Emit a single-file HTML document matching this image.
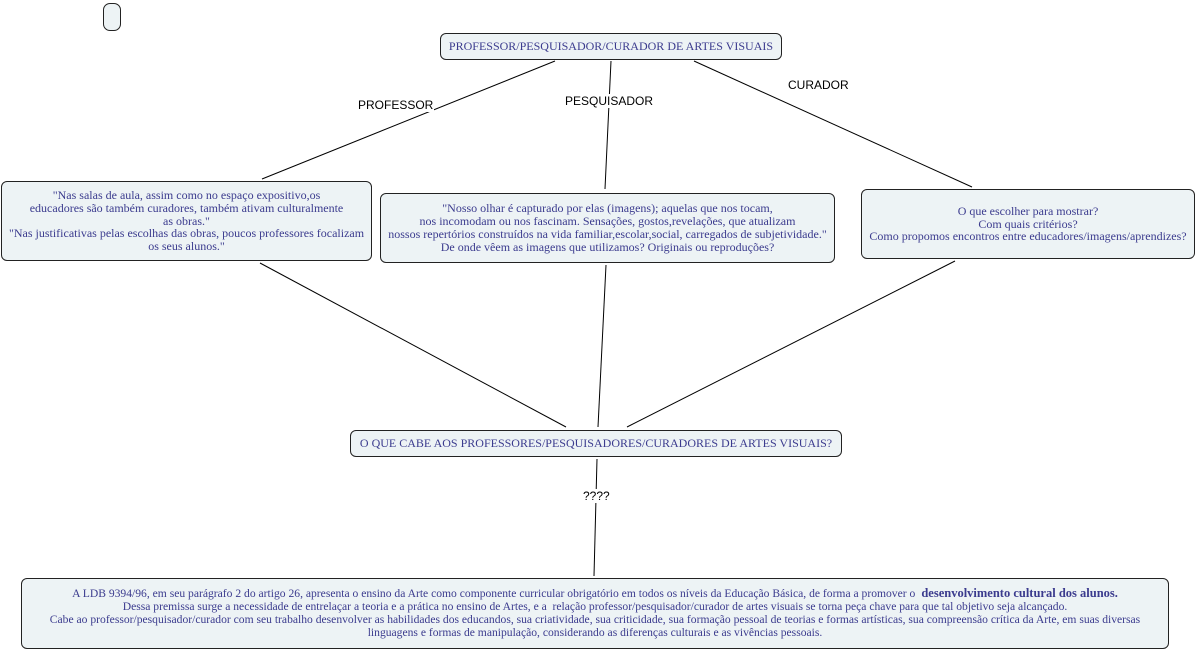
<!DOCTYPE html>
<html><head><meta charset="utf-8"><style>
body{margin:0;width:1197px;height:652px;background:#fff;position:relative;overflow:hidden;font-family:"Liberation Serif",serif}
.b{position:absolute;box-sizing:border-box;border:1px solid #222;border-radius:6px;background:#edf3f5;color:#3b3b8e;font-size:12px;line-height:12.8px;text-align:center;display:flex;align-items:center;justify-content:center;white-space:nowrap;overflow:visible}
.b>div{text-align:center}
.l{position:absolute;font-family:"Liberation Sans",sans-serif;font-size:12px;color:#000;background:#fff;padding:0 1px;line-height:14px}
svg{position:absolute;left:0;top:0}
</style></head><body>
<svg width="1197" height="652"><g stroke="#000" stroke-width="1">
<line x1="555" y1="61" x2="262" y2="179"/>
<line x1="611" y1="61" x2="605" y2="189"/>
<line x1="694" y1="61" x2="972" y2="187"/>
<line x1="260" y1="263" x2="566" y2="427"/>
<line x1="606" y1="265" x2="598" y2="427"/>
<line x1="955" y1="261" x2="627" y2="427"/>
<line x1="597" y1="459" x2="594" y2="576"/>
</g></svg>
<div class="b" style="left:103px;top:3px;width:18px;height:28px;border-radius:7px"></div>
<div class="b" style="left:440px;top:33px;width:342px;height:27px"><div>PROFESSOR/PESQUISADOR/CURADOR DE ARTES VISUAIS</div></div>
<div class="b" style="left:1px;top:181px;width:371px;height:80px"><div>"Nas salas de aula, assim como no espaço expositivo,os<br>educadores são também curadores, também ativam culturalmente<br>as obras."<br>"Nas justificativas pelas escolhas das obras, poucos professores focalizam<br>os seus alunos."</div></div>
<div class="b" style="left:380px;top:193px;width:455px;height:70px"><div>"Nosso olhar é capturado por elas (imagens); aquelas que nos tocam,<br>nos incomodam ou nos fascinam. Sensações, gostos,revelações, que atualizam<br>nossos repertórios construídos na vida familiar,escolar,social, carregados de subjetividade."<br>De onde vêem as imagens que utilizamos? Originais ou reproduções?</div></div>
<div class="b" style="left:861px;top:189px;width:334px;height:70px"><div>O que escolher para mostrar?<br>Com quais critérios?<br>Como propomos encontros entre educadores/imagens/aprendizes?</div></div>
<div class="b" style="left:350px;top:430px;width:492px;height:27px"><div>O QUE CABE AOS PROFESSORES/PESQUISADORES/CURADORES DE ARTES VISUAIS?</div></div>
<div class="b" style="left:21px;top:578px;width:1148px;height:71px;font-size:11.6px"><div>A LDB 9394/96, em seu parágrafo 2 do artigo 26, apresenta o ensino da Arte como componente curricular obrigatório em todos os níveis da Educação Básica, de forma a promover o <b style="font-size:12.5px">&nbsp;desenvolvimento cultural dos alunos.</b><br>Dessa premissa surge a necessidade de entrelaçar a teoria e a prática no ensino de Artes, e a&nbsp; relação professor/pesquisador/curador de artes visuais se torna peça chave para que tal objetivo seja alcançado.<br>Cabe ao professor/pesquisador/curador com seu trabalho desenvolver as habilidades dos educandos, sua criatividade, sua criticidade, sua formação pessoal de teorias e formas artísticas, sua compreensão crítica da Arte, em suas diversas<br>linguagens e formas de manipulação, considerando as diferenças culturais e as vivências pessoais.</div></div>
<div class="l" style="left:357px;top:98px">PROFESSOR</div>
<div class="l" style="left:564px;top:94px">PESQUISADOR</div>
<div class="l" style="left:787px;top:78px">CURADOR</div>
<div class="l" style="left:582px;top:489px">????</div>
</body></html>
